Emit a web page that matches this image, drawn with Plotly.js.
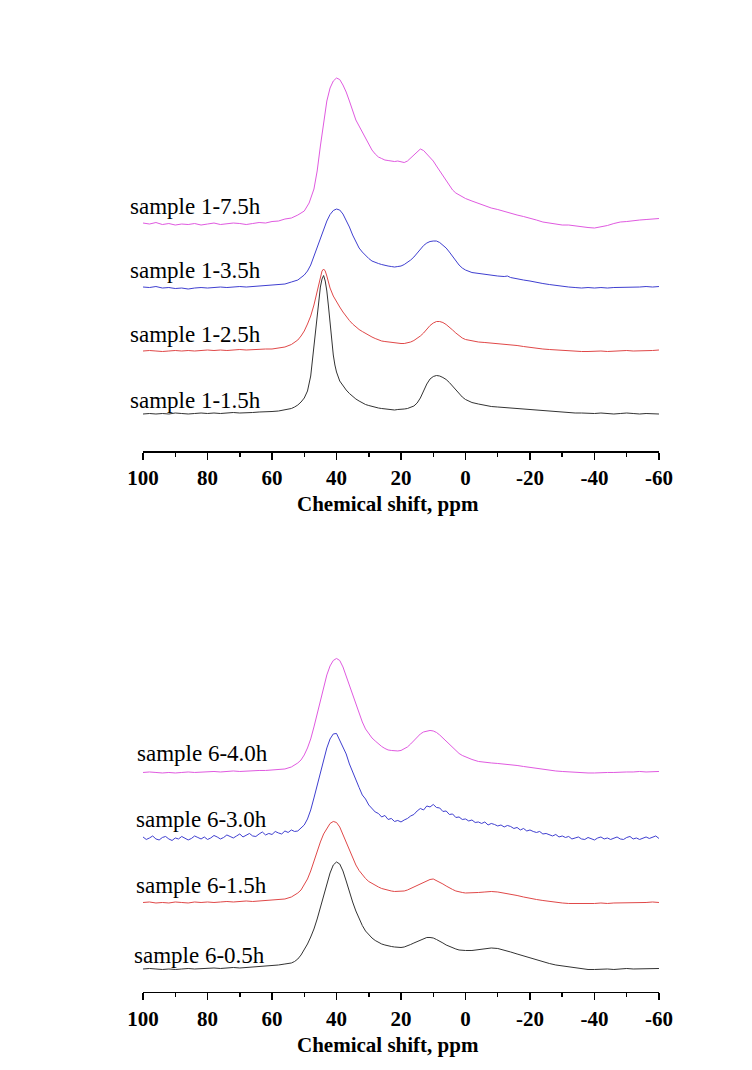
<!DOCTYPE html>
<html>
<head>
<meta charset="utf-8">
<script src="https://cdn.plot.ly/plotly-3.0.1.min.js"></script>
<style>html,body{margin:0;padding:0;background:#fff;}#chart{width:752px;height:1070px;}</style>
</head>
<body>
<div id="chart"></div>
<script>
// ---------- tick labels ----------
const tickVals = [100, 80, 60, 40, 20, 0, -20, -40, -60];
const tickText = ["100", "80", "60", "40", "20", "0", "-20", "-40", "-60"];
const minorTickVals = [90, 70, 50, 30, 10, -10, -30, -50];
const axisTitle = "Chemical shift, ppm";

// ---------- top panel: sample 1 ----------
const ppmA = [100,98,96,94,92,90,88,86,84,82,80,78,76,74,72,70,68,66,64,62,60,58,56,54,52,50,48.5,47,46,45,44,43,42,41,40,39,38,37,36,35,34,33,32,31,30,29,28,27,26,25,24,23,22,21,20,19,18,17,16,15,14,13,12,11,10,9,8,7,6,5,4,3,2,1,0,-2,-4,-6,-8,-10,-12,-14,-16,-18,-20,-22,-24,-26,-28,-30,-32,-34,-36,-38,-40,-42,-44,-46,-48,-50,-52,-54,-56,-58,-60];
const s1_75h = [228,227,228.5,226.5,227.5,226,227,226.5,227.5,226,227,228,226.5,227,228,227.5,226.5,227.5,228.5,228,229.5,230,232,233,236,240,248,262,280,305,330,350,363,370,373,371.5,366,359,350,340,331,325,319,313,307,301,297,294,292.5,291,290.5,290,289.5,290,289,288.5,290,293,297,300,302,300.5,297,293,290,285,280,276,270,266,261,258,256,254.5,252.5,250,247.5,245,243,241.5,239.5,238,236,234.5,233,231,229,228,227,226,226,225,224.5,223.5,223,224,225.5,227.5,229,229.5,230.5,231,231.5,232,232.5];

const ppmB = [100,98,96,94,92,90,88,86,84,82,80,78,76,74,72,70,68,66,64,62,60,58,56,54,52,50,49,48,47,46,45,44,43,42,41,40,39,38,37,36,35,34,33,32,31,30,29,28,27,26,25,24,23,22,21,20,19,18,17,16,15,14,13,12,11,10,9,8,7,6,5,4,3,2,1,0,-2,-4,-6,-8,-10,-12,-13,-14,-16,-18,-20,-22,-24,-26,-28,-30,-32,-34,-36,-38,-40,-42,-44,-46,-48,-50,-52,-54,-56,-58,-60];
const s1_35h = [164,163.5,164.5,163,163.5,162.5,163,162,163,163.5,163,163.5,164,163.5,164,164.5,164,164.5,165,165,165.5,166,167,169,171,176,180,186,195,204,212,222,230,236.5,240.5,242,241,237,231,224,216,209,203,199,195.5,192.5,190,188.5,187.5,186.5,185.5,185,184.5,184,184.5,185,186.5,188.5,191,194,198,202,205.5,208,209.5,210,210,208.5,206,203,199,194.5,190,186,183,181,178.5,177.5,177,176,175,174.5,175,173.5,172,171,170,168.5,167.5,166.5,165.5,164.5,164,163.5,163,163.5,163,163.5,163,163.5,163.5,164,163.5,164,164.5,164,164.5];

const ppmC = [100,98,96,94,92,90,88,86,84,82,80,78,76,74,72,70,68,66,64,62,60,58,56,54,52,51,50,49,48,47,46,45,44.5,44,43.5,43,42,41,40,39,38,37,36,35,34,33,32,31,30,29,28,27,26,25,24,23,22,21,20,19,18,17,16,15,14,13,12,11,10,9,8,7,6,5,4,3,2,1,0,-2,-4,-6,-8,-10,-12,-14,-16,-18,-20,-22,-24,-26,-28,-30,-32,-34,-36,-38,-40,-42,-44,-46,-48,-50,-52,-54,-56,-58,-60];
const s1_25h = [100,100.5,100,99.5,100,100.5,100,100.5,100,100.5,101,100.5,101,100.5,101,101.5,101,101.5,101.5,102,102,103,104,106.5,111,115,120,127,135,146,160,174,180,182,180,175,163,155,149,144,139,134.5,130.5,127,124,121.5,119.5,117.5,115.5,114,112.5,111,110,109.5,109,108.5,108,107.5,107.5,107.5,108,109,110.5,112.5,115,118,122,125.5,128,129.5,129.5,128.5,126.5,124,121,118,115.5,113,111.5,110,109,108.5,108,107.5,107,106.5,105.5,104.5,103.5,103,102,101.5,101,100.5,100,99.5,99.5,99.5,100,100,99.5,100,100,100.5,100,100,100.5,100.5,101];

const ppmD = [100,98,96,94,92,90,88,86,84,82,80,78,76,74,72,70,68,66,64,62,60,58,56,54,53,52,51,50,49,48,47.5,47,46.5,46,45.5,45,44.5,44,43.5,43,42.5,42,41.5,41,40.5,40,39,38,37,36,35,34,33,32,31,30,29,28,27,26,25,24,23,22,21,20,19,18,17,16,15,14,13,12,11,10,9,8,7,6,5,4,3,2,1,0,-2,-4,-6,-8,-10,-12,-14,-16,-18,-20,-22,-24,-26,-28,-30,-32,-34,-36,-38,-40,-42,-44,-46,-48,-50,-52,-54,-56,-58,-60];
const s1_15h = [37,37.5,37,37.5,37,38,37.5,37,37.5,38,37.5,38,37.5,38,38.5,38,38,38.5,39,39,39.5,40,41,42.5,44,46,49,53,60,75,90,105,120,137,152,164,172,175.5,170,160,145,128,110,96,86,79,70,65,61,57.5,54.5,52,50,48,46.5,45.5,44.5,43.5,43,42.5,42,41.5,41,41,41.5,41.5,42,42.5,43.5,45,48,53,60,67,72,74.5,75.5,75,73.5,71.5,68.5,65,61,57,54,51.5,48.5,47,45.5,44.5,44,43.5,43,42,41.5,41,40.5,40,39.5,39,38.5,38.5,38,38,37.5,37.5,38,37.5,37,37.5,38,37.5,37,37.5,37,37];

// ---------- bottom panel: sample 6 ----------
const ppmE = [100,98,96,94,92,90,88,86,84,82,80,78,76,74,72,70,68,66,64,62,60,58,56,54,52,51,50,49,48,47,46,45,44,43,42,41,40,39,38,37,36,35,34,33,32,31,30,29,28,27,26,25,24,23,22,21,20,19,18,17,16,15,14,13,12,11,10,9,8,7,6,5,4,3,2,1,0,-2,-4,-6,-8,-10,-12,-14,-16,-18,-20,-22,-24,-26,-28,-30,-32,-34,-36,-38,-40,-42,-44,-46,-48,-50,-52,-54,-56,-58,-60];
const s6_40h = [219.5,220,219.5,219,219.5,219,219.5,220,219.5,220,220,220.5,220,220.5,221,220.5,221,221,221.5,221.5,222,222.5,223,225,229,232,237,244,253,265,278,291,305,317,326,331.5,333.5,331.5,325,316,306,296,287,278,270,263,258,254,251,248,245.5,243.5,242,241.5,241,241,241.5,243,245,248,251.5,255,258,260,261,261.5,261,259.5,257,254,251,247.5,244,241,238.5,236.5,235,232.5,230.5,229.5,229,228.5,228,227.5,226.5,225.5,224.5,223.5,222.5,221.5,221,220.5,220,219.5,219.5,219,219,219.5,219.5,219.5,220,220,220,220.5,220,220.5,220.5];

const ppmF = [100,99,98,97,96,95,94,93,92,91,90,89,88,87,86,85,84,83,82,81,80,79,78,77,76,75,74,73,72,71,70,69,68,67,66,65,64,63,62,61,60,59,58,57,56,55,54,53,52,51,50,49,48,47,46,45,44,43,42,41,40,39,38,37,36,35,34,33,32,31,30,29,28,27,26,25,24,23,22,21,20,19,18,17,16,15,14,13,12,11,10,9,8,7,6,5,4,3,2,1,0,-1,-2,-3,-4,-5,-6,-7,-8,-9,-10,-11,-12,-13,-14,-15,-16,-17,-18,-19,-20,-21,-22,-23,-24,-25,-26,-27,-28,-29,-30,-31,-32,-33,-34,-35,-36,-37,-38,-39,-40,-41,-42,-43,-44,-45,-46,-47,-48,-49,-50,-51,-52,-53,-54,-55,-56,-57,-58,-59,-60];
const s6_30h = [155,152.5,154,156,153,152,154.5,155.5,153,151.5,154,153,155.5,154,152,153.5,156,154.5,153,155,152.5,154,156.5,155,153,154.5,157,155.5,154,156,158,155,156.5,158.5,156,155.5,158,160,157,158.5,157.5,160.5,159,158,161,159.5,162,160.5,161,
164,167,173,182,194,207,220,233,244,253,258,258.5,252,245,238,228,220,211,204.5,197,193,187,184,180,178.5,175,176.5,172.5,173.5,170.5,171.5,170,172,173.5,176,177.5,181,183.5,182,186,185,187.5,184.5,184,180.5,181,177.5,178,174.5,175,172.5,
173,171,172,169.5,170,168.5,170,167,168.5,167.5,166,167,165,166.5,165.5,163.5,164.5,162,163.5,161,162,160.5,159.5,160.5,158,158.5,157.5,156,157.5,155,156,154.5,155.5,153,154,155,153,152.5,154.5,153.5,152,154,155,153,154,152.5,153.5,155,153,152.5,154.5,155.5,153,154,152.5,154,155,153.5,154.5,156,153.5];

const ppmG = [100,98,96,94,92,90,88,86,84,82,80,78,76,74,72,70,68,66,64,62,60,58,56,54,52,51,50,49,48,47,46,45,44,43,42,41,40,39,38,37,36,35,34,33,32,31,30,29,28,27,26,25,24,23,22,21,20,19,18,17,16,15,14,13,12,11,10,9,8,7,6,5,4,3,2,1,0,-2,-4,-6,-8,-10,-12,-14,-16,-18,-20,-22,-24,-26,-28,-30,-32,-34,-36,-38,-40,-42,-44,-46,-48,-50,-52,-54,-56,-58,-60];
const s6_15h = [89.5,90,89,89.5,89,90,89.5,89,90,89.5,90,89.5,90,90.5,90,90.5,91,90.5,91,91,91.5,92,93,95,99,102,107,113,121,131,141,150,158,164,168.5,170.5,169.5,165,157,149,141,133.5,127,121.5,117,113.5,110.5,108.5,106.5,105,103.5,102.5,101.5,101,100.5,100.5,100.5,101,102,103.5,105,106.5,108,109.5,111,112.5,113,111.5,110,108,106,104,102.5,101,100,99.5,99,99,99.5,100,100.5,100,99,98,96.5,95,93.5,92.5,91.5,90.5,89.5,89,88.5,88.5,88,88.5,88.5,89,88.5,89,89,89.5,89,89.5,89.5,90,89.5];

const ppmH = [100,98,96,94,92,90,88,86,84,82,80,78,76,74,72,70,68,66,64,62,60,58,56,54,53,52,51,50,49,48,47,46,45,44,43,42,41,40,39,38,37,36,35,34,33,32,31,30,29,28,27,26,25,24,23,22,21,20,19,18,17,16,15,14,13,12,11,10,9,8,7,6,5,4,3,2,1,0,-2,-4,-6,-8,-10,-12,-14,-16,-18,-20,-22,-24,-26,-28,-30,-32,-34,-36,-38,-40,-42,-44,-46,-48,-50,-52,-54,-56,-58,-60];
const s6_05h = [23,23.5,23,22.5,23,22.5,23,23.5,23,23.5,23.5,24,23.5,24,24.5,24,24.5,25,25,26,26.5,27,28,29,30.5,33,37,42,48,55,63,73,84,96,108,119,127,130,128,121,111,100,90,81,73,66.5,61,57,54,51.5,49.5,48,47,46,45.5,45,44.5,44.5,45,46,47.5,49,50.5,52,53.5,54.5,54.5,54,52.5,51,49,47,45.5,44,43,42,41.5,41.5,41.5,42.5,43.5,44,43.5,42,40,38,36,34,32,30,28.5,27,26,25,24,23.5,22.5,22.5,23,23,22.5,23,23.5,23,23,23.5,23,23.5];

const topSeries = [
  {name: "sample 1-7.5h", x: ppmA, y: s1_75h, color: "#e05ae0"},
  {name: "sample 1-3.5h", x: ppmB, y: s1_35h, color: "#3f3fd0"},
  {name: "sample 1-2.5h", x: ppmC, y: s1_25h, color: "#e04848"},
  {name: "sample 1-1.5h", x: ppmD, y: s1_15h, color: "#333333"}
];
const bottomSeries = [
  {name: "sample 6-4.0h", x: ppmE, y: s6_40h, color: "#e05ae0"},
  {name: "sample 6-3.0h", x: ppmF, y: s6_30h, color: "#3f3fd0"},
  {name: "sample 6-1.5h", x: ppmG, y: s6_15h, color: "#e04848"},
  {name: "sample 6-0.5h", x: ppmH, y: s6_05h, color: "#333333"}
];

const traces = [];
topSeries.forEach(s => traces.push({x: s.x, y: s.y, type: "scatter", mode: "lines", name: s.name,
  line: {color: s.color, width: 1}, xaxis: "x", yaxis: "y", hoverinfo: "skip"}));
bottomSeries.forEach(s => traces.push({x: s.x, y: s.y, type: "scatter", mode: "lines", name: s.name,
  line: {color: s.color, width: 1}, xaxis: "x2", yaxis: "y2", hoverinfo: "skip"}));

const serif = "'Liberation Serif', 'Times New Roman', serif";
function xAxis(anchor) {
  return {
    anchor: anchor, domain: [0.1902, 0.8763], range: [100, -60],
    tickmode: "array", tickvals: tickVals, ticktext: tickText,
    ticks: "outside", ticklen: 7, tickwidth: 1.5, tickcolor: "#000",
    minor: {tickmode: "array", tickvals: minorTickVals, ticks: "outside", ticklen: 4, tickwidth: 1.5, tickcolor: "#000", showgrid: false},
    showline: true, linecolor: "#000", linewidth: 1.5,
    showgrid: false, zeroline: false,
    tickfont: {family: serif, size: 21, color: "#000", weight: "bold"}
  };
}
function yAxis(domain, range) {
  return {domain: domain, range: range, visible: false, showgrid: false, zeroline: false, fixedrange: true};
}

const labelFont = {family: serif, size: 23, color: "#000"};
const titleFont = {family: serif, size: 21, color: "#000"};
const annotations = [
  {text: topSeries[0].name, xref: "paper", yref: "y", x: 0.170, y: 245, xanchor: "left", yanchor: "middle", showarrow: false, font: labelFont},
  {text: topSeries[1].name, xref: "paper", yref: "y", x: 0.170, y: 180.5, xanchor: "left", yanchor: "middle", showarrow: false, font: labelFont},
  {text: topSeries[2].name, xref: "paper", yref: "y", x: 0.170, y: 116.3, xanchor: "left", yanchor: "middle", showarrow: false, font: labelFont},
  {text: topSeries[3].name, xref: "paper", yref: "y", x: 0.170, y: 50.5, xanchor: "left", yanchor: "middle", showarrow: false, font: labelFont},
  {text: bottomSeries[0].name, xref: "paper", yref: "y2", x: 0.180, y: 238, xanchor: "left", yanchor: "middle", showarrow: false, font: labelFont},
  {text: bottomSeries[1].name, xref: "paper", yref: "y2", x: 0.178, y: 172, xanchor: "left", yanchor: "middle", showarrow: false, font: labelFont},
  {text: bottomSeries[2].name, xref: "paper", yref: "y2", x: 0.178, y: 106, xanchor: "left", yanchor: "middle", showarrow: false, font: labelFont},
  {text: bottomSeries[3].name, xref: "paper", yref: "y2", x: 0.176, y: 36, xanchor: "left", yanchor: "middle", showarrow: false, font: labelFont},
  {text: "<b>" + axisTitle + "</b>", xref: "paper", yref: "paper", x: 0.516, y: 0.5290, xanchor: "center", yanchor: "middle", showarrow: false, font: titleFont},
  {text: "<b>" + axisTitle + "</b>", xref: "paper", yref: "paper", x: 0.516, y: 0.0234, xanchor: "center", yanchor: "middle", showarrow: false, font: titleFont}
];

const layout = {
  width: 752, height: 1070,
  margin: {l: 0, r: 0, t: 0, b: 0},
  paper_bgcolor: "#ffffff", plot_bgcolor: "rgba(0,0,0,0)",
  showlegend: false,
  xaxis: xAxis("y"),
  yaxis: yAxis([0.5785, 0.9439], [0, 391]),
  xaxis2: xAxis("y2"),
  yaxis2: yAxis([0.0729, 0.4206], [0, 372]),
  annotations: annotations
};

Plotly.newPlot("chart", traces, layout, {displayModeBar: false, staticPlot: true});
</script>
</body>
</html>
